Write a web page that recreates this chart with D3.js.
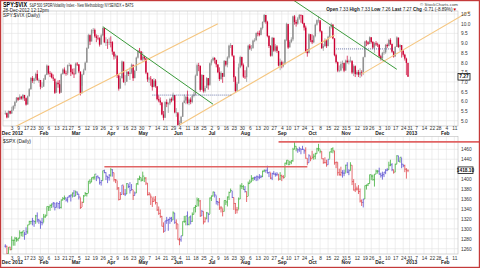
<!DOCTYPE html>
<html>
<head>
<meta charset="utf-8">
<script src="https://cdn.jsdelivr.net/npm/d3@7"></script>
<style>
  html, body { margin: 0; padding: 0; background: #fff; }
  svg { display: block; font-family: "Liberation Sans", Arial, sans-serif; }
</style>
</head>
<body>
<svg id="chart" width="480" height="268"></svg>
<script>
// ---- calendar ----
const FIRST_DAY = '2011-12-27';
const LAST_AXIS_DAY = '2013-02-13';
const LAST_CALENDAR_DAY = '2013-03-15';
const HOLIDAYS = ['2012-01-02', '2012-01-16', '2012-02-20', '2012-04-06', '2012-05-28', '2012-07-04',
  '2012-09-03', '2012-10-29', '2012-10-30', '2012-11-22', '2012-12-25', '2013-01-01', '2013-01-21', '2013-02-18'];
const MONTH_LABELS = ['Dec', '2012', 'Feb', 'Mar', 'Apr', 'May', 'Jun', 'Jul', 'Aug', 'Sep', 'Oct', 'Nov', 'Dec', '2013', 'Feb'];

const RATIO_TICKS = [5.0, 5.5, 6.0, 6.5, 7.0, 7.5, 8.0, 8.5, 9.0, 9.5, 10.0, 10.5];
const SPX_TICKS = [1260, 1280, 1300, 1320, 1340, 1360, 1380, 1400, 1440, 1460];

// SPY:$VIX daily [high, low, close], one line per month (Dec 2011 .. Dec 2012)
const ratioBars = [
  [5.52,5.30,5.39],[5.42,5.12,5.17],[5.53,5.15,5.50],[5.52,5.33,5.37],
  [5.72,5.35,5.56],[5.80,5.50,5.75],[6.02,5.62,5.96],[6.22,5.92,6.19],[6.20,6.02,6.08],[6.36,6.10,6.24],[6.28,6.08,6.14],[6.38,6.05,6.33],[6.30,6.02,6.16],[6.20,5.78,5.83],[6.30,5.85,6.26],[6.68,6.25,6.62],[7.25,6.60,7.20],[7.30,6.95,7.05],[7.22,6.90,7.18],[7.48,7.05,7.41],[7.60,7.05,7.10],[7.18,6.95,7.10],[7.00,6.62,6.75],[6.98,6.70,6.75],
  [7.20,6.85,7.12],[7.40,7.10,7.35],[7.90,7.40,7.84],[7.70,7.38,7.45],[7.55,7.25,7.42],[7.48,7.18,7.23],[7.38,7.05,7.17],[7.00,6.38,6.44],[7.02,6.62,6.96],[7.08,6.70,6.88],[7.10,6.38,6.44],[7.45,6.50,7.40],[7.70,7.38,7.64],[7.75,7.40,7.46],[7.58,7.32,7.44],[7.90,7.35,7.86],[7.98,7.80,7.87],[7.92,7.30,7.50],[7.68,7.38,7.43],[7.70,7.20,7.39],
  [8.00,7.45,7.94],[8.02,7.82,7.90],[7.92,7.45,7.54],[7.30,6.30,6.41],[7.42,6.80,7.38],[7.68,7.35,7.59],[8.05,7.62,7.99],[8.78,8.00,8.74],[9.48,8.70,9.41],[9.45,8.90,9.08],[9.72,9.10,9.67],[9.78,9.50,9.68],[9.75,9.28,9.35],[9.45,9.05,9.27],[9.42,9.15,9.25],[9.30,8.82,8.92],[9.48,8.95,9.40],[9.82,9.35,9.78],[9.75,9.00,9.04],[9.30,8.85,9.06],[9.20,8.70,9.04],[9.28,8.90,9.06],
  [9.35,8.78,9.05],[9.10,8.40,8.56],[8.55,8.15,8.31],[8.45,8.20,8.36],[8.20,7.20,7.33],[7.40,6.55,6.65],[7.30,6.80,7.18],[8.10,7.20,8.05],[7.95,6.95,7.00],[7.35,6.82,7.00],[7.60,7.05,7.52],[7.55,7.30,7.41],[7.75,7.10,7.48],[7.95,7.40,7.89],[7.70,7.05,7.19],[7.62,7.20,7.57],[8.30,7.60,8.25],[8.65,8.20,8.61],[8.75,8.48,8.58],[8.55,8.10,8.14],
  [8.55,8.05,8.31],[8.35,8.10,8.21],[8.25,7.40,7.48],[7.45,7.00,7.13],[7.25,6.95,7.17],[7.30,6.80,7.14],[7.10,6.55,6.73],[7.20,6.75,7.07],[7.15,6.70,6.78],[6.75,6.05,6.11],[6.30,5.95,6.04],[6.20,5.80,5.94],[5.95,5.28,5.32],[5.50,5.02,5.15],[6.00,5.15,5.96],[6.10,5.70,5.85],[5.95,5.40,5.89],[6.18,5.80,6.12],[6.20,5.95,6.04],[6.45,6.05,6.32],[6.20,5.38,5.43],[5.65,5.20,5.43],
  [5.35,4.75,4.78],[5.00,4.70,4.88],[5.25,4.85,5.20],[5.96,5.20,5.92],[6.35,5.90,6.04],[6.28,5.85,6.23],[6.55,5.85,5.91],[6.15,5.80,6.09],[6.20,5.85,5.96],[6.35,5.90,6.28],[6.50,6.20,6.35],[7.38,6.30,7.32],[7.95,7.30,7.86],[7.98,7.55,7.84],[7.80,6.50,6.59],[7.40,6.60,7.36],[7.20,6.45,6.52],[6.80,6.45,6.68],[7.25,6.70,7.20],[7.15,6.60,6.82],[8.00,6.90,7.96],
  [8.18,7.85,8.11],[8.30,8.05,8.23],[8.28,7.95,8.14],[8.05,7.75,7.90],[7.90,7.45,7.50],[7.75,7.05,7.15],[7.55,7.10,7.46],[7.45,6.95,7.26],[8.12,7.30,8.09],[8.05,7.80,7.89],[8.32,7.75,8.26],[8.92,8.20,8.87],[9.00,8.75,8.90],[8.85,8.30,8.36],[8.10,7.00,7.24],[7.30,6.45,6.53],[7.00,6.55,6.91],[7.95,6.95,7.75],[8.35,7.70,8.28],[8.30,7.80,7.86],[7.95,7.20,7.27],
  [7.60,7.15,7.24],[7.80,7.00,7.75],[8.92,7.80,8.87],[8.95,8.65,8.72],[8.90,8.60,8.75],[9.18,8.70,9.13],[9.25,9.05,9.16],[9.55,9.10,9.52],[9.60,9.35,9.51],[9.65,9.35,9.43],[9.82,9.40,9.78],[10.12,9.70,10.09],[10.50,10.05,10.45],[10.45,10.00,10.10],[10.15,9.30,9.37],[9.40,8.75,8.85],[8.90,8.30,8.35],[9.32,8.30,9.28],[9.25,8.55,8.61],[8.95,8.55,8.83],[8.90,8.50,8.60],[8.55,7.80,7.84],[8.20,7.60,8.03],
  [8.10,7.70,7.81],[8.05,7.75,7.90],[9.20,7.95,9.17],[10.05,9.10,9.99],[9.90,8.70,8.77],[9.15,8.80,9.06],[9.30,9.00,9.19],[10.42,9.10,10.38],[10.45,9.95,10.09],[10.20,9.85,10.00],[10.35,9.95,10.27],[10.50,10.20,10.45],[10.48,10.05,10.43],[10.45,9.98,10.03],[10.05,9.65,9.80],[9.90,8.50,8.56],[8.70,8.30,8.48],[9.50,8.50,9.46],[9.45,9.05,9.15],
  [9.45,8.95,9.04],[9.42,9.00,9.37],[10.00,9.30,9.95],[10.22,9.90,10.18],[10.40,10.05,10.18],[10.10,9.55,9.61],[9.65,8.70,8.74],[8.95,8.60,8.85],[9.25,8.80,9.15],[9.20,8.75,8.84],[9.38,8.85,9.33],[9.88,9.30,9.83],[10.05,9.75,9.96],[9.95,9.20,9.24],[9.25,8.32,8.38],[8.45,7.95,8.02],[8.05,7.50,7.58],[7.85,7.50,7.59],[8.05,7.55,7.92],[8.10,7.70,7.97],[8.00,7.50,7.58],
  [8.15,7.60,8.10],[8.35,7.95,8.02],[8.15,7.90,8.07],[8.30,8.00,8.10],[8.05,7.40,7.48],[7.90,7.30,7.81],[7.85,7.25,7.40],[7.60,7.35,7.51],[7.62,7.25,7.37],[7.70,7.20,7.51],[7.60,7.28,7.50],[8.30,7.35,8.27],[9.12,8.30,9.08],[9.15,8.85,9.04],[9.10,8.90,8.96],[9.35,8.95,9.30],[9.30,8.98,9.06],[9.10,8.70,8.77],[9.05,8.50,8.99],[9.10,8.85,8.93],[9.02,8.80,8.91],
  [8.95,8.25,8.32],[8.40,8.10,8.21],[8.55,8.10,8.50],[8.65,8.40,8.52],[8.95,8.45,8.91],[8.98,8.75,8.84],[9.22,8.85,9.16],[9.25,8.90,8.95],[8.98,8.50,8.56],[8.60,8.25,8.31],[8.85,8.30,8.80],[9.35,8.80,9.29],[9.25,8.75,8.80],[8.95,8.60,8.90],[8.85,8.25,8.60],[8.65,8.30,8.40],[8.45,8.10,8.20],[8.25,7.35,7.98],[7.33,7.26,7.27]
];

// $SPX daily [high, low, close], one line per month (Dec 2011 .. Dec 2012)
const spxBars = [
  [1269,1262,1265],[1266,1248,1250],[1263,1250,1263],[1264,1257,1258],
  [1285,1258,1277],[1278,1266,1277],[1284,1266,1281],[1283,1274,1278],[1282,1275,1281],[1297,1281,1292],[1294,1285,1293],[1296,1284,1296],[1294,1278,1289],[1303,1288,1294],[1308,1290,1308],[1316,1308,1315],[1315,1309,1315],[1322,1307,1316],[1316,1304,1315],[1328,1310,1326],[1333,1313,1318],[1320,1310,1316],[1316,1300,1313],[1322,1307,1312],
  [1330,1313,1324],[1329,1322,1326],[1345,1326,1345],[1345,1336,1344],[1349,1336,1347],[1351,1342,1350],[1354,1343,1352],[1352,1337,1343],[1353,1343,1352],[1351,1341,1351],[1356,1340,1343],[1359,1341,1358],[1364,1357,1361],[1367,1358,1362],[1363,1355,1358],[1364,1353,1364],[1368,1363,1366],[1369,1355,1368],[1373,1363,1372],[1378,1364,1366],
  [1377,1366,1374],[1375,1368,1370],[1370,1359,1364],[1363,1340,1343],[1355,1344,1353],[1368,1353,1366],[1374,1366,1371],[1372,1365,1371],[1396,1372,1396],[1400,1390,1394],[1403,1394,1403],[1405,1399,1404],[1410,1399,1410],[1406,1396,1406],[1407,1401,1403],[1403,1389,1393],[1398,1387,1397],[1417,1397,1417],[1419,1412,1413],[1414,1398,1406],[1406,1392,1403],[1410,1397,1408],
  [1422,1405,1419],[1420,1405,1413],[1413,1395,1399],[1400,1392,1398],[1397,1378,1382],[1384,1357,1359],[1374,1359,1369],[1388,1369,1388],[1387,1368,1370],[1380,1366,1370],[1392,1370,1391],[1390,1382,1385],[1394,1371,1377],[1390,1378,1379],[1378,1358,1367],[1375,1367,1372],[1391,1372,1391],[1402,1388,1400],[1407,1398,1403],[1403,1395,1398],
  [1415,1396,1406],[1404,1394,1402],[1404,1388,1392],[1392,1367,1369],[1374,1367,1370],[1369,1348,1364],[1363,1344,1355],[1365,1354,1358],[1366,1349,1353],[1353,1336,1338],[1345,1328,1331],[1339,1322,1325],[1326,1305,1305],[1313,1292,1295],[1316,1295,1316],[1324,1310,1317],[1320,1296,1319],[1324,1310,1321],[1324,1314,1318],[1335,1318,1332],[1332,1310,1313],[1319,1299,1310],
  [1310,1278,1278],[1282,1267,1278],[1286,1274,1286],[1315,1286,1315],[1326,1312,1315],[1326,1307,1326],[1335,1307,1309],[1324,1307,1324],[1327,1309,1315],[1333,1314,1329],[1343,1329,1343],[1348,1333,1345],[1363,1345,1358],[1362,1345,1356],[1358,1324,1326],[1338,1326,1335],[1335,1309,1314],[1324,1313,1320],[1334,1320,1332],[1332,1313,1329],[1363,1330,1362],
  [1367,1356,1366],[1375,1365,1374],[1374,1363,1368],[1367,1349,1355],[1356,1347,1353],[1362,1338,1342],[1346,1333,1342],[1341,1325,1335],[1357,1335,1357],[1357,1348,1354],[1365,1345,1364],[1375,1358,1373],[1381,1374,1377],[1376,1362,1363],[1363,1338,1351],[1352,1330,1338],[1344,1331,1338],[1363,1339,1360],[1389,1360,1386],[1392,1380,1385],[1388,1379,1379],
  [1386,1373,1375],[1375,1354,1365],[1395,1366,1391],[1399,1391,1394],[1408,1394,1401],[1404,1396,1402],[1405,1398,1403],[1406,1396,1406],[1406,1397,1404],[1410,1400,1404],[1408,1402,1405],[1417,1404,1416],[1419,1414,1418],[1418,1413,1418],[1427,1411,1413],[1414,1404,1414],[1413,1400,1402],[1413,1398,1411],[1416,1409,1410],[1413,1405,1409],[1414,1406,1410],[1410,1397,1400],[1414,1398,1407],
  [1409,1396,1405],[1408,1401,1403],[1433,1404,1432],[1438,1429,1438],[1438,1429,1429],[1437,1429,1434],[1438,1430,1437],[1463,1435,1460],[1475,1460,1466],[1466,1456,1461],[1461,1453,1459],[1465,1455,1461],[1461,1450,1460],[1467,1459,1460],[1460,1451,1457],[1464,1441,1442],[1442,1428,1433],[1450,1433,1447],[1446,1436,1441],
  [1457,1441,1444],[1451,1439,1446],[1453,1440,1451],[1463,1451,1461],[1471,1456,1461],[1460,1452,1456],[1456,1441,1441],[1442,1431,1433],[1444,1432,1433],[1439,1425,1429],[1440,1429,1440],[1455,1441,1455],[1462,1453,1461],[1464,1452,1457],[1457,1429,1433],[1435,1422,1434],[1434,1407,1413],[1421,1407,1409],[1425,1406,1413],[1418,1403,1412],[1419,1406,1412],
  [1429,1413,1428],[1434,1412,1414],[1420,1408,1417],[1434,1417,1428],[1428,1388,1395],[1400,1377,1378],[1392,1374,1380],[1385,1377,1380],[1388,1370,1375],[1381,1353,1356],[1359,1346,1353],[1360,1343,1360],[1387,1360,1387],[1389,1379,1388],[1392,1386,1391],[1409,1391,1409],[1409,1398,1406],[1409,1397,1399],[1410,1385,1410],[1419,1410,1416],[1418,1411,1416],
  [1423,1409,1410],[1413,1403,1407],[1415,1399,1409],[1414,1404,1414],[1420,1410,1418],[1422,1416,1419],[1435,1419,1428],[1439,1426,1429],[1432,1416,1419],[1419,1411,1414],[1431,1414,1430],[1448,1430,1447],[1447,1435,1436],[1444,1433,1444],[1443,1422,1430],[1430,1424,1427],[1429,1414,1420],[1422,1401,1418.1],[1418.1,1414,1418.1]
];

// annotation lines: [date, value] endpoints
const channelLines = [
  [['2012-01-03', 4.60], ['2012-07-09', 10.00]],
  [['2012-06-04', 4.78], ['2012-10-19', 9.42]],
  [['2012-11-15', 7.40], ['2013-03-06', 10.96]]
];
const downLines = [
  [['2012-03-26', 9.85], ['2012-07-03', 5.85]],
  [['2012-09-07', 11.45], ['2012-12-18', 7.65]]
];
const dottedLines = [
  [['2012-05-09', 6.32], ['2012-07-20', 6.32]],
  [['2012-10-22', 8.70], ['2012-12-14', 8.70]]
];
const resistanceLines = [
  [['2012-03-27', 1425], ['2012-09-26', 1425]],
  [['2012-08-30', 1475], ['2013-03-06', 1475]]
];

// ---- layout ----
const svg = d3.select('#chart');
const PLOT_L = 3, PLOT_R = 458;
const TOP = { y0: 11, y1: 126 };
const BOT = { y0: 136.5, y1: 254 };
const FONT = '"Liberation Sans", Arial, sans-serif';

const parse = d3.timeParse('%Y-%m-%d');
const fmt = d3.timeFormat('%Y-%m-%d');
const holidaySet = new Set(HOLIDAYS);
const days = d3.timeDay.range(parse(FIRST_DAY), d3.timeDay.offset(parse(LAST_CALENDAR_DAY), 1))
  .filter(d => d.getDay() % 6 !== 0 && !holidaySet.has(fmt(d)))
  .map(fmt);
const axisDays = days.filter(d => d <= LAST_AXIS_DAY);

const x = d3.scalePoint().domain(days).range([5.3, 5.3 + (days.length - 1) * 1.598]);
const yTop = d3.scaleLinear().domain([5.0, 10.5]).range([120.7, 14]);
const yBot = d3.scaleLinear().domain([1260, 1460]).range([248.7, 149.3]);

const weekStarts = axisDays.filter((d, i) => i > 0 && +d3.timeMonday.floor(parse(d)) !== +d3.timeMonday.floor(parse(axisDays[i - 1])));
const monthStarts = axisDays.filter((d, i) => i === 0 || d.slice(0, 7) !== axisDays[i - 1].slice(0, 7));

svg.append('rect').attr('width', 480).attr('height', 268).attr('fill', '#fff');

const defs = svg.append('defs');
defs.append('clipPath').attr('id', 'clipTop').append('rect')
  .attr('x', PLOT_L).attr('y', TOP.y0).attr('width', PLOT_R - PLOT_L).attr('height', TOP.y1 - TOP.y0);
defs.append('clipPath').attr('id', 'clipTopWide').append('rect')
  .attr('x', PLOT_L).attr('y', TOP.y0).attr('width', 480 - PLOT_L).attr('height', TOP.y1 - TOP.y0);
defs.append('clipPath').attr('id', 'clipBot').append('rect')
  .attr('x', PLOT_L).attr('y', BOT.y0).attr('width', PLOT_R - PLOT_L).attr('height', BOT.y1 - BOT.y0);

// ---- grids ----
function grid(panel, yScale, ticks) {
  const g = svg.append('g').attr('stroke', '#e3e3e3').attr('stroke-width', 0.6);
  g.selectAll('line.v').data(weekStarts).enter().append('line')
    .attr('x1', d => x(d)).attr('x2', d => x(d))
    .attr('y1', panel.y0).attr('y2', panel.y1);
  g.selectAll('line.h').data(ticks).enter().append('line')
    .attr('x1', PLOT_L).attr('x2', PLOT_R)
    .attr('y1', d => yScale(d)).attr('y2', d => yScale(d));
  svg.append('rect').attr('x', PLOT_L).attr('y', panel.y0)
    .attr('width', PLOT_R - PLOT_L).attr('height', panel.y1 - panel.y0)
    .attr('fill', 'none').attr('stroke', '#bdbdbd').attr('stroke-width', 0.6);
}
grid(TOP, yTop, RATIO_TICKS);
grid(BOT, yBot, SPX_TICKS.concat([1420]));

// ---- top panel candles ----
const ratio = ratioBars.map((b, i) => ({
  day: days[i], high: b[0], low: b[1], close: b[2],
  prev: i > 0 ? ratioBars[i - 1][2] : b[2]
}));
const gTop = svg.append('g').attr('clip-path', 'url(#clipTop)');
const upColor = '#8f8f8f', downColor = '#cc0033';
gTop.selectAll('line.wick').data(ratio).enter().append('line')
  .attr('x1', d => x(d.day)).attr('x2', d => x(d.day))
  .attr('y1', d => yTop(d.high)).attr('y2', d => yTop(d.low))
  .attr('stroke', d => d.close < d.prev ? downColor : upColor).attr('stroke-width', 0.7);
gTop.selectAll('rect.body').data(ratio).enter().append('rect')
  .attr('x', d => x(d.day) - 0.7).attr('width', 1.4)
  .attr('y', d => yTop(Math.max(d.close, d.prev)))
  .attr('height', d => Math.max(0.6, Math.abs(yTop(d.close) - yTop(d.prev))))
  .attr('fill', d => d.close < d.prev ? downColor : upColor);

// ---- bottom panel OHLC bars, Elder impulse colouring ----
const spxClose = spxBars.map(b => b[2]);
function ema(vals, n) {
  const k = 2 / (n + 1);
  const out = [];
  vals.forEach((v, i) => out.push(i === 0 ? v : v * k + out[i - 1] * (1 - k)));
  return out;
}
const ema13 = ema(spxClose, 13);
const ema12 = ema(spxClose, 12), ema26 = ema(spxClose, 26);
const macd = ema12.map((v, i) => v - ema26[i]);
const signal = ema(macd, 9);
const hist = macd.map((v, i) => v - signal[i]);
const impulse = spxClose.map((c, i) => {
  if (i === 0) return 'blue';
  const up = ema13[i] > ema13[i - 1] && hist[i] > hist[i - 1];
  const dn = ema13[i] < ema13[i - 1] && hist[i] < hist[i - 1];
  return up ? 'green' : dn ? 'red' : 'blue';
});
const impulseColor = { green: '#3fae3a', red: '#e0454b', blue: '#5a4fd0' };

const spx = spxBars.map((b, i) => ({
  day: days[i], high: b[0], low: b[1], close: b[2],
  open: i > 0 ? spxBars[i - 1][2] : b[2], color: impulseColor[impulse[i]]
}));
const gBot = svg.append('g').attr('clip-path', 'url(#clipBot)');
const bar = gBot.selectAll('g.bar').data(spx).enter().append('g')
  .attr('stroke', d => d.color).attr('stroke-width', 0.8);
bar.append('line')
  .attr('x1', d => x(d.day)).attr('x2', d => x(d.day))
  .attr('y1', d => yBot(d.high)).attr('y2', d => yBot(d.low));
bar.append('line')
  .attr('x1', d => x(d.day) - 0.8).attr('x2', d => x(d.day))
  .attr('y1', d => yBot(d.open)).attr('y2', d => yBot(d.open));
bar.append('line')
  .attr('x1', d => x(d.day)).attr('x2', d => x(d.day) + 0.8)
  .attr('y1', d => yBot(d.close)).attr('y2', d => yBot(d.close));

// ---- annotations ----
function drawLines(data, yScale, color, width, dash, clip) {
  const g = svg.append('g');
  if (clip) g.attr('clip-path', clip);
  g.selectAll('line').data(data).enter().append('line')
    .attr('x1', d => x(d[0][0])).attr('y1', d => yScale(d[0][1]))
    .attr('x2', d => x(d[1][0])).attr('y2', d => yScale(d[1][1]))
    .attr('stroke', color).attr('stroke-width', width)
    .attr('stroke-dasharray', dash);
}
drawLines(channelLines, yTop, '#f5c680', 1.1, null, 'url(#clipTopWide)');
drawLines(downLines, yTop, '#3a9a3a', 1.0, null, null);
drawLines(dottedLines, yTop, '#334488', 0.7, '1 1', null);
drawLines(resistanceLines, yBot, '#e06464', 1.6, null, null);

// ---- axes ----
function timeAxis(yNum, yMonth) {
  const a = svg.append('g').attr('transform', `translate(0,${yNum})`)
    .call(d3.axisBottom(x).tickValues(weekStarts).tickSize(0).tickPadding(0)
      .tickFormat(d => +d.slice(8)));
  a.select('.domain').remove();
  a.selectAll('text').attr('font-size', 4.8).attr('fill', '#333').attr('font-family', FONT)
    .attr('dy', 0).attr('y', 0);
  const m = svg.append('g').attr('transform', `translate(0,${yMonth})`)
    .call(d3.axisBottom(x).tickValues(monthStarts).tickSize(0).tickPadding(0)
      .tickFormat((d, i) => MONTH_LABELS[i]));
  m.select('.domain').remove();
  m.selectAll('text').attr('font-size', 4.9).attr('font-weight', 'bold')
    .attr('fill', '#222').attr('font-family', FONT).attr('dy', 0).attr('y', 0);
  // first two labels sit side by side at the left edge
  m.selectAll('.tick').filter((d, i) => i === 0).select('text')
    .attr('text-anchor', 'start').attr('x', -4.1);
  m.selectAll('.tick').filter((d, i) => i === 1).select('text')
    .attr('text-anchor', 'start').attr('x', 0);
}
timeAxis(130.2, 134.8);
timeAxis(259.8, 264.4);

function valueAxis(yScale, ticks, format) {
  const a = svg.append('g').attr('transform', `translate(${PLOT_R},0)`)
    .call(d3.axisRight(yScale).tickValues(ticks).tickSize(0).tickPadding(3).tickFormat(format));
  a.select('.domain').remove();
  a.selectAll('text').attr('font-size', 4.8).attr('fill', '#333').attr('font-family', FONT);
}
valueAxis(yTop, RATIO_TICKS, d3.format('.1f'));
valueAxis(yBot, SPX_TICKS, d3.format('d'));

function lastBox(yPos, label, w) {
  svg.append('rect').attr('x', PLOT_R).attr('y', yPos - 3.2).attr('width', w).attr('height', 6.6)
    .attr('fill', '#fff').attr('stroke', '#111').attr('stroke-width', 0.8);
  svg.append('text').attr('x', PLOT_R + w / 2).attr('y', yPos + 1.8).attr('text-anchor', 'middle')
    .attr('font-size', 4.8).attr('font-weight', 'bold').attr('fill', '#111').attr('font-family', FONT)
    .text(label);
}
lastBox(yTop(ratioBars[ratioBars.length - 1][2]), '7.27', 12);
lastBox(yBot(spxBars[spxBars.length - 1][2]), '1418.10', 15);

// ---- header texts ----
const txt = (xx, yy, s, size, opts = {}) => {
  const t = svg.append('text').attr('x', xx).attr('y', yy)
    .attr('font-size', size).attr('font-family', FONT).attr('fill', opts.fill || '#222')
    .attr('font-weight', opts.bold ? 'bold' : null).attr('text-anchor', opts.anchor || 'start').text(s);
  if (opts.len) t.attr('textLength', opts.len).attr('lengthAdjust', 'spacingAndGlyphs');
  return t;
};

txt(3, 7, 'SPY:$VIX', 6.6, { bold: true, fill: '#000', len: 24 });
txt(29.5, 6.6, 'S&P 500 SPDR/Volatility Index - New Methodology  NYSEINDX + BATS', 4.6, { len: 104 });
txt(3, 12, '28-Dec-2012 12:12pm', 4.6);
txt(3, 17.2, 'SPY:$VIX (Daily)', 4.9);
txt(458, 6, '\u00a9 StockCharts.com', 4.4, { anchor: 'end', fill: '#444' });

const ohlc = svg.append('text').attr('x', 457).attr('y', 11.4).attr('text-anchor', 'end')
  .attr('font-size', 4.6).attr('font-family', FONT).attr('fill', '#222');
[['Open', ' 7.33 '], ['High', ' 7.33 '], ['Low', ' 7.26 '], ['Last', ' 7.27 '], ['Chg', ' -0.71 (-8.89%)']]
  .forEach(([k, v]) => {
    ohlc.append('tspan').attr('font-weight', 'bold').text(k);
    ohlc.append('tspan').text(v);
  });
ohlc.append('tspan').attr('fill', '#cc0000').text('\u25bc');

txt(3, 143.4, '$SPX (Daily)', 4.9);

// ---- outer frame ----
svg.append('rect').attr('x', 0.6).attr('y', 0.6).attr('width', 478.8).attr('height', 266.8)
  .attr('fill', 'none').attr('stroke', '#c43a3a').attr('stroke-width', 1.2);
</script>
</body>
</html>
